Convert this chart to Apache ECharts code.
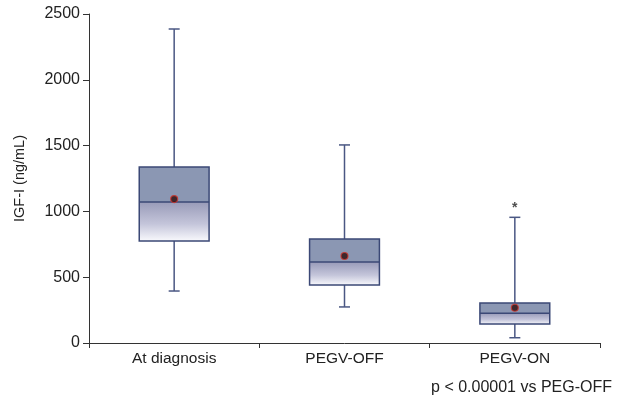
<!DOCTYPE html>
<html><head><meta charset="utf-8">
<script src="https://cdn.jsdelivr.net/npm/echarts@6/dist/echarts.min.js"></script>
<style>html,body{margin:0;padding:0;background:#fff}#c{width:619px;height:402px}</style>
</head><body><div id="c"></div>
<script>
var categories = ['At diagnosis', 'PEGV-OFF', 'PEGV-ON'];
// [whiskerLow, Q1, median, Q3, whiskerHigh]
var boxValues = [
  [395, 775, 1071, 1337, 2386],
  [274, 441, 615, 790, 1505],
  [40, 144, 226, 304, 955]
];
var meanValues = [1094, 661, 268];
var outliers = [[2, 1025]];
var yTicks = { min: 0, max: 2500, interval: 500 };
var footnote = 'p < 0.00001 vs PEG-OFF';
var FONT = '"Liberation Sans", Arial, sans-serif';

var chart = echarts.init(document.getElementById('c'));
var boxData = boxValues.map(function (v, i) { return [i].concat(v); });
var meanData = meanValues.map(function (v, i) { return [i, v]; });

chart.setOption({
  animation: false,
  grid: { left: 89, right: 19, top: 14, bottom: 59 },
  xAxis: {
    type: 'category', data: categories, boundaryGap: true,
    axisLine: { lineStyle: { color: '#333', width: 1 } },
    axisTick: { show: true, length: 5, lineStyle: { color: '#333' } },
    axisLabel: { color: '#222', fontFamily: FONT, fontSize: 15.5, margin: 8 }
  },
  yAxis: {
    type: 'value', min: yTicks.min, max: yTicks.max, interval: yTicks.interval,
    name: 'IGF-I (ng/mL)', nameLocation: 'middle', nameGap: 62,
    nameTextStyle: { color: '#222', fontFamily: FONT, fontSize: 14.5 },
    axisLine: { show: true, lineStyle: { color: '#333', width: 1 } },
    axisTick: { show: true, length: 6, lineStyle: { color: '#333' } },
    splitLine: { show: false },
    axisLabel: { color: '#222', fontFamily: FONT, fontSize: 16, margin: 9,
      formatter: function (v) { return String(v); } }
  },
  series: [
    {
      type: 'custom',
      data: boxData,
      encode: { x: 0, y: [1, 2, 3, 4, 5] },
      renderItem: function (params, api) {
        var i = api.value(0);
        var lo = api.coord([i, api.value(1)]);
        var q1 = api.coord([i, api.value(2)]);
        var md = api.coord([i, api.value(3)]);
        var q3 = api.coord([i, api.value(4)]);
        var hi = api.coord([i, api.value(5)]);
        var bw = api.size([1, 0])[0] * 0.41;
        var cw = 11;
        var x = lo[0];
        var stop = (md[1] - q3[1]) / (q1[1] - q3[1]);
        var wStyle = { stroke: '#4a5783', lineWidth: 1.5 };
        var grad = new echarts.graphic.LinearGradient(0, 0, 0, 1, [
          { offset: 0, color: '#8b97b3' },
          { offset: stop, color: '#8b97b3' },
          { offset: Math.min(stop + 0.001, 1), color: '#999bb9' },
          { offset: stop + (1 - stop) * 0.55, color: '#c4c5da' },
          { offset: 1, color: '#fbfbfe' }
        ]);
        return {
          type: 'group',
          children: [
            { type: 'line', shape: { x1: x, y1: q3[1], x2: x, y2: hi[1] }, style: wStyle },
            { type: 'line', shape: { x1: x, y1: q1[1], x2: x, y2: lo[1] }, style: wStyle },
            { type: 'line', shape: { x1: x - cw / 2, y1: hi[1], x2: x + cw / 2, y2: hi[1] }, style: wStyle },
            { type: 'line', shape: { x1: x - cw / 2, y1: lo[1], x2: x + cw / 2, y2: lo[1] }, style: wStyle },
            { type: 'rect', shape: { x: x - bw / 2, y: q3[1], width: bw, height: q1[1] - q3[1] },
              style: { fill: grad, stroke: '#3b4876', lineWidth: 1.5 } },
            { type: 'line', shape: { x1: x - bw / 2, y1: md[1], x2: x + bw / 2, y2: md[1] },
              style: { stroke: '#3b4876', lineWidth: 1.5 } }
          ]
        };
      },
      z: 2
    },
    {
      type: 'scatter', data: meanData, symbol: 'circle', symbolSize: 7,
      itemStyle: { color: '#2b0b0b', borderColor: '#d0342c', borderWidth: 1.2 },
      z: 5
    },
    {
      type: 'scatter', data: outliers, symbolSize: 1,
      itemStyle: { color: 'rgba(0,0,0,0)' },
      label: { show: true, formatter: '*', position: 'inside', color: '#222',
        fontFamily: FONT, fontSize: 14, fontWeight: 'bold' },
      z: 5
    }
  ],
  graphic: [
    { type: 'text', right: 7, top: 380,
      style: { text: footnote, fill: '#222', font: '16px ' + FONT } }
  ]
});
</script></body></html>
